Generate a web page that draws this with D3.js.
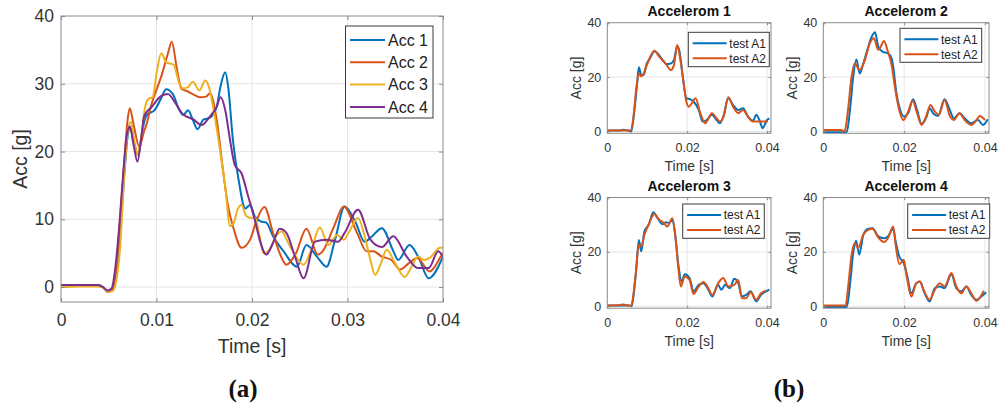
<!DOCTYPE html>
<html>
<head>
<meta charset="utf-8">
<script src="https://cdn.jsdelivr.net/npm/d3@7"></script>
<style>
  html, body { margin: 0; padding: 0; background: #fff; }
  svg { display: block; font-family: "Liberation Sans", Arial, sans-serif; }
</style>
</head>
<body>
<div id="chart"></div>
<script>
// -------------------- Data --------------------
// each series is a list of [time (s), acceleration (g)]
const mainNames = ["Acc 1", "Acc 2", "Acc 3", "Acc 4"];
const subNames = ["test A1", "test A2"];
const subTitles = ["Accelerom 1", "Accelerom 2", "Accelerom 3", "Accelerom 4"];

const mainXTicks = [0, 0.01, 0.02, 0.03, 0.04];
const mainYTicks = [0, 10, 20, 30, 40];
const subXTicks = [0, 0.02, 0.04];
const subYTicks = [0, 20, 40];

const acc1 = [[0,0.3],[0.002,0.3],[0.0038,0.3],[0.0044,0],[0.0049,-0.7],[0.0054,-0.3],[0.0058,2],[0.0062,8],[0.0066,16],[0.0070,22.5],[0.0072,23.7],[0.0076,21.5],[0.0081,19.5],[0.0085,23],[0.009,25.4],[0.0098,26.1],[0.0105,27.9],[0.011,29.2],[0.0117,28.5],[0.0124,26.1],[0.0128,25.4],[0.0133,26.1],[0.0138,24.7],[0.0143,23.3],[0.0149,24.7],[0.0156,25],[0.0163,26.6],[0.0167,29.6],[0.0172,31.7],[0.0175,29.6],[0.018,21.7],[0.0186,15.8],[0.0193,11.6],[0.0198,12.1],[0.0203,10.4],[0.0209,9.7],[0.0215,9.5],[0.0222,7.5],[0.0233,5.3],[0.0247,3],[0.0257,6.2],[0.0268,4.5],[0.0278,3],[0.0287,7],[0.0297,11.9],[0.0308,9.7],[0.0318,6.7],[0.0325,7.4],[0.0336,8.7],[0.0348,5.3],[0.0353,4],[0.0365,6.2],[0.0374,4.5],[0.0385,1.3],[0.04,4.5]];
const acc2 = [[0,0.2],[0.002,0.2],[0.0038,0.2],[0.0044,0],[0.0049,-0.7],[0.0054,-0.3],[0.0058,3],[0.0062,10],[0.0066,18],[0.007,25],[0.0072,26.4],[0.0076,24],[0.0082,20.7],[0.0087,23],[0.009,24.2],[0.0094,26.6],[0.0101,29.5],[0.0105,31.1],[0.0112,34.5],[0.0116,36.2],[0.0121,32.5],[0.0126,29.3],[0.0132,28.9],[0.0139,28.4],[0.0146,28],[0.0152,28.1],[0.0156,28.6],[0.0163,24.7],[0.017,16.8],[0.0175,11.9],[0.0181,8.5],[0.0189,5.8],[0.0198,7],[0.0205,9.9],[0.0213,11.8],[0.0222,8],[0.0229,5],[0.0236,3.3],[0.0246,5],[0.0257,8.6],[0.0269,4.8],[0.0275,5.5],[0.0286,9],[0.0296,11.9],[0.031,8],[0.032,5.3],[0.0327,5.3],[0.0336,4.5],[0.0346,4],[0.0355,2.6],[0.0364,3.5],[0.0373,4.3],[0.0386,2.3],[0.0399,4.8],[0.04,5]];
const acc3 = [[0,0],[0.002,0.1],[0.004,0.1],[0.0045,-0.2],[0.005,-0.7],[0.0054,-0.6],[0.0058,1],[0.0062,6],[0.0066,16],[0.007,23],[0.0073,24.4],[0.0077,21.5],[0.008,19.5],[0.0084,22],[0.0088,26.5],[0.0092,27.8],[0.0096,28],[0.01,31.5],[0.0105,34.5],[0.011,33.2],[0.0118,32.8],[0.0124,30],[0.0128,29.3],[0.0133,29.5],[0.0138,30.3],[0.0145,29],[0.0151,30.5],[0.0155,29.5],[0.016,26],[0.0166,20.7],[0.0172,14.8],[0.0177,9],[0.0181,9.5],[0.0185,11.5],[0.0189,12.1],[0.0194,10.5],[0.0199,10.2],[0.0203,10.3],[0.0208,7.5],[0.0212,5],[0.0218,5.5],[0.0225,7.5],[0.0231,8.2],[0.0238,6.5],[0.0246,4.5],[0.0254,3.3],[0.0262,5.5],[0.0271,8.8],[0.028,6.2],[0.0289,7.7],[0.0296,7],[0.0303,8.5],[0.0311,10.2],[0.0318,7.5],[0.0324,4],[0.0329,1.8],[0.0335,3.5],[0.0341,5.5],[0.035,3.5],[0.036,1.5],[0.0367,3],[0.0374,4.5],[0.038,4],[0.0386,4.3],[0.0397,5.8],[0.04,5.8]];
const acc4 = [[0,0.3],[0.002,0.3],[0.0038,0.3],[0.0044,0],[0.0049,-0.5],[0.0053,-0.2],[0.0057,3],[0.0061,9],[0.0065,16.5],[0.0069,22.5],[0.0072,23.7],[0.0076,21],[0.008,18.5],[0.0084,22],[0.0087,25.2],[0.0095,26.6],[0.0105,28.2],[0.0112,28.5],[0.012,27.1],[0.0127,25.6],[0.0139,24.7],[0.0147,23.9],[0.0156,25.2],[0.0163,26.6],[0.0167,28],[0.0172,26.1],[0.0177,21.7],[0.0182,18],[0.0189,16.8],[0.0196,13.4],[0.0203,9.9],[0.0208,7],[0.0215,4.8],[0.0222,6.5],[0.0229,8.6],[0.0236,8],[0.0245,4.5],[0.0254,1.3],[0.0266,6.7],[0.0278,7],[0.029,6.7],[0.0297,8],[0.0311,11.4],[0.0324,7],[0.0336,5.9],[0.0348,7.5],[0.0362,4.5],[0.0374,2.8],[0.0385,2.8],[0.0395,5.3],[0.04,4.5]];

const s1a1 = [[0,0.3],[0.003,0.3],[0.004,0.6],[0.0052,0.3],[0.006,0],[0.0068,7.9],[0.0074,16.5],[0.0079,23.6],[0.0085,20.8],[0.0091,20.8],[0.0099,25],[0.0107,26.9],[0.0118,29.5],[0.013,28],[0.014,26],[0.0148,24.8],[0.0159,25],[0.0167,26.3],[0.0175,31.4],[0.0181,29.3],[0.0189,20.2],[0.0198,12.2],[0.0208,11.8],[0.0216,11],[0.0229,7.9],[0.0239,3.6],[0.0249,4.2],[0.0262,6.1],[0.0274,4.2],[0.0282,3],[0.0291,5.5],[0.0303,12.2],[0.0315,9.7],[0.0328,7.9],[0.034,8.5],[0.0352,5.5],[0.0365,3.9],[0.0373,6.1],[0.0381,4.2],[0.0389,1.2],[0.04,4.2],[0.0406,4.8]];
const s1a2 = [[0,0.3],[0.0058,0.3],[0.0066,6],[0.0072,15],[0.0079,21.3],[0.0085,20.3],[0.009,21],[0.0099,24.4],[0.0118,29.7],[0.013,27.5],[0.0146,25],[0.0159,22.6],[0.0167,24.4],[0.0175,31.8],[0.0183,26.3],[0.0189,20.2],[0.0198,11],[0.0204,9.1],[0.0212,10.4],[0.0221,12.2],[0.0233,6.7],[0.0245,3],[0.0262,6.7],[0.0274,4.8],[0.0282,3.6],[0.0291,5.5],[0.0303,12.6],[0.0315,9.1],[0.0328,6.7],[0.034,7.9],[0.0352,5.5],[0.0365,3.6],[0.0377,3.6],[0.0389,3.6],[0.0402,3.6]];
const s2a1 = [[0,-0.3],[0.0058,-0.3],[0.0066,7.9],[0.0074,20.2],[0.0082,26.5],[0.009,21.3],[0.0099,25],[0.0109,30],[0.0119,34.6],[0.0128,36.5],[0.0136,31.2],[0.0147,29.3],[0.016,28.7],[0.0169,26.9],[0.0173,23.8],[0.0181,14],[0.0189,8.5],[0.0199,5.5],[0.021,6.7],[0.0222,11.8],[0.0232,7.9],[0.0243,2.8],[0.0255,5.2],[0.0263,8.5],[0.0273,6.4],[0.0284,5.7],[0.03,11.8],[0.0313,7.9],[0.0323,4.8],[0.0337,6.7],[0.035,4.8],[0.0366,3],[0.0383,4.2],[0.0395,2.4],[0.0407,4.5]];
const s2a2 = [[0,0.5],[0.0045,0.5],[0.005,0],[0.0054,0.6],[0.0062,9.1],[0.007,20.2],[0.0078,25],[0.009,22.6],[0.0103,26.3],[0.0115,32.4],[0.0125,34.3],[0.0136,30],[0.0142,31.2],[0.015,33.3],[0.016,29.3],[0.0169,24.4],[0.0177,16.5],[0.0185,9.7],[0.0198,4.2],[0.021,7.3],[0.0221,11.3],[0.0232,6.7],[0.0243,2.4],[0.0255,5.7],[0.0265,9.7],[0.0276,7.3],[0.0286,6.1],[0.03,11.6],[0.0313,5.7],[0.0323,4.2],[0.0337,6.7],[0.035,4.2],[0.0366,2.4],[0.0379,4.2],[0.0387,5.7],[0.04,4.2]];
const s3a1 = [[0,0.3],[0.0055,0.3],[0.0061,0],[0.0066,4.3],[0.0072,12.8],[0.0079,24.4],[0.0085,20.2],[0.0093,27.5],[0.0104,30],[0.0115,34.6],[0.0126,32.4],[0.0138,30.2],[0.0147,30.9],[0.0155,30.6],[0.0163,31.8],[0.017,26.3],[0.0178,15.3],[0.0186,9.1],[0.0194,11.8],[0.0206,10.4],[0.0216,5.5],[0.0229,7.9],[0.0241,8.5],[0.0253,6.1],[0.0263,3.6],[0.0277,7.9],[0.0286,6.1],[0.0295,7.9],[0.0307,6.7],[0.0318,10.1],[0.0328,8.5],[0.0337,3.6],[0.0348,4.2],[0.0359,5.5],[0.0373,1.8],[0.0385,4.2],[0.0398,5.5],[0.0406,6.1]];
const s3a2 = [[0,0.3],[0.003,0.4],[0.004,0.7],[0.0052,0.3],[0.006,0.2],[0.0066,5],[0.0071,11.6],[0.0079,22.6],[0.0085,22],[0.0093,26.3],[0.0105,30.6],[0.0118,33.9],[0.013,31.8],[0.0142,30.6],[0.015,29.3],[0.0163,32.4],[0.0171,25],[0.0178,14],[0.0184,7.3],[0.0194,11],[0.0206,9.7],[0.0216,4.5],[0.0229,7.3],[0.0241,8.9],[0.0253,6.7],[0.0263,4.2],[0.0278,8.5],[0.029,10.4],[0.0303,7.3],[0.0318,7.9],[0.0328,9.7],[0.0337,3],[0.0348,3],[0.0359,5.2],[0.0373,2.4],[0.0385,4.8],[0.0398,5.7]];
const s4a1 = [[0,-0.3],[0.0058,-0.3],[0.0066,7.9],[0.0074,19.6],[0.0081,24.1],[0.0089,19],[0.0099,26.3],[0.0111,28.5],[0.0122,28.7],[0.0136,25.7],[0.015,25],[0.016,25.7],[0.0173,28.5],[0.0179,23.8],[0.0188,18.3],[0.0199,15.9],[0.0207,11.6],[0.0218,4.8],[0.023,8.5],[0.0239,9.1],[0.0249,5.5],[0.0263,1.8],[0.0276,6.7],[0.0288,7.3],[0.03,6.7],[0.0317,11.8],[0.0329,6.7],[0.0342,5.5],[0.0354,7.3],[0.0366,4.2],[0.0379,2.4],[0.0391,3.6],[0.0403,5.2]];
const s4a2 = [[0,0.3],[0.0052,0.3],[0.0055,0.2],[0.0062,7.9],[0.007,19],[0.0078,23.2],[0.0086,21.4],[0.0099,26.3],[0.0111,28.1],[0.0122,28.5],[0.0136,25.3],[0.015,23.6],[0.016,25],[0.0173,29.3],[0.0179,22.6],[0.0188,15.5],[0.0199,17.1],[0.0207,10.4],[0.0218,3.6],[0.023,8.5],[0.0239,9.1],[0.0249,5.7],[0.0263,2.4],[0.0276,6.1],[0.0288,8.5],[0.03,7.3],[0.0317,12.2],[0.0329,7.3],[0.0342,4.8],[0.0354,7.3],[0.0366,4.8],[0.0379,2],[0.0397,5.7]];

// -------------------- Style --------------------
const colors = ["#0072BD", "#D95319", "#EDB120", "#7E2F8E"];
const textColor = "#333";
const boxColor = "#8a8a8a";
const gridColor = "#e6e6e6";

const width = 998, height = 408;
const svg = d3.select("#chart").append("svg")
  .attr("width", width)
  .attr("height", height);

let clipId = 0;

function panel(cfg) {
  const x = d3.scaleLinear().domain(cfg.xDomain).range([cfg.left, cfg.right]);
  const y = d3.scaleLinear().domain(cfg.yDomain).range([cfg.bottom, cfg.top]);
  const w = cfg.right - cfg.left, h = cfg.bottom - cfg.top;
  const g = svg.append("g");

  // grid
  g.append("g").selectAll("line").data(cfg.xTicks.filter(t => t > cfg.xDomain[0] && t < cfg.xDomain[1]))
    .join("line")
    .attr("x1", d => x(d)).attr("x2", d => x(d))
    .attr("y1", cfg.top).attr("y2", cfg.bottom)
    .attr("stroke", gridColor).attr("stroke-width", 1);
  g.append("g").selectAll("line").data(cfg.yTicks.filter(t => t > cfg.yDomain[0] && t < cfg.yDomain[1]))
    .join("line")
    .attr("y1", d => y(d)).attr("y2", d => y(d))
    .attr("x1", cfg.left).attr("x2", cfg.right)
    .attr("stroke", gridColor).attr("stroke-width", 1);

  // lines
  const id = "clip" + (clipId++);
  svg.append("clipPath").attr("id", id)
    .append("rect").attr("x", cfg.left).attr("y", cfg.top).attr("width", w).attr("height", h);
  const line = d3.line().x(d => x(d[0])).y(d => y(d[1])).curve(d3.curveMonotoneX);
  g.append("g").attr("clip-path", `url(#${id})`)
    .selectAll("path").data(cfg.series)
    .join("path")
    .attr("d", d => line(d))
    .attr("fill", "none")
    .attr("stroke", (d, i) => colors[i])
    .attr("stroke-width", cfg.lineWidth)
    .attr("stroke-linejoin", "round");

  // axes (inward ticks, labels outside)
  const tl = cfg.tickLen;
  const xAxis = d3.axisBottom(x).tickValues(cfg.xTicks).tickFormat(d3.format("~g"))
    .tickSizeInner(-tl).tickSizeOuter(0).tickPadding(cfg.xPad);
  const yAxis = d3.axisLeft(y).tickValues(cfg.yTicks).tickFormat(d3.format("~g"))
    .tickSizeInner(-tl).tickSizeOuter(0).tickPadding(cfg.yPad);
  const ax = g.append("g").attr("transform", `translate(0,${cfg.bottom})`).call(xAxis);
  const ay = g.append("g").attr("transform", `translate(${cfg.left},0)`).call(yAxis);
  const axTop = g.append("g").attr("transform", `translate(0,${cfg.top})`)
    .call(d3.axisTop(x).tickValues(cfg.xTicks).tickFormat("").tickSizeInner(-tl).tickSizeOuter(0));
  const ayRight = g.append("g").attr("transform", `translate(${cfg.right},0)`)
    .call(d3.axisRight(y).tickValues(cfg.yTicks).tickFormat("").tickSizeInner(-tl).tickSizeOuter(0));
  [ax, ay, axTop, ayRight].forEach(a => {
    a.select(".domain").remove();
    a.selectAll(".tick line").attr("stroke", boxColor);
    a.selectAll("text").attr("fill", textColor).style("font-size", cfg.tickFont + "px").attr("font-family", null);
  });

  g.append("rect")
    .attr("x", cfg.left).attr("y", cfg.top).attr("width", w).attr("height", h)
    .attr("fill", "none").attr("stroke", boxColor).attr("stroke-width", 1);

  // axis labels
  g.append("text")
    .attr("x", (cfg.left + cfg.right) / 2).attr("y", cfg.bottom + cfg.xLabelOff)
    .attr("text-anchor", "middle").attr("fill", textColor)
    .style("font-size", cfg.labelFont + "px")
    .text("Time [s]");
  g.append("text")
    .attr("transform", `translate(${cfg.left - cfg.yLabelOff},${(cfg.top + cfg.bottom) / 2}) rotate(-90)`)
    .attr("text-anchor", "middle").attr("fill", textColor)
    .style("font-size", cfg.labelFont + "px")
    .text("Acc [g]");

  if (cfg.title) {
    g.append("text")
      .attr("x", (cfg.left + cfg.right) / 2).attr("y", cfg.top - 7)
      .attr("text-anchor", "middle").attr("fill", "#111")
      .style("font-size", "14px").style("font-weight", "bold")
      .text(cfg.title);
  }

  // legend
  const L = cfg.legend;
  const lg = g.append("g");
  lg.append("rect")
    .attr("x", L.x).attr("y", L.y).attr("width", L.w).attr("height", L.h)
    .attr("fill", "#fff").attr("stroke", "#3a3a3a").attr("stroke-width", 1);
  cfg.names.forEach((name, i) => {
    const yy = L.y + L.first + i * L.step;
    lg.append("line")
      .attr("x1", L.x + L.lx0).attr("x2", L.x + L.lx1)
      .attr("y1", yy).attr("y2", yy)
      .attr("stroke", colors[i]).attr("stroke-width", cfg.lineWidth);
    lg.append("text")
      .attr("x", L.x + L.tx).attr("y", yy).attr("dy", "0.35em")
      .attr("fill", "#222").style("font-size", L.font + "px")
      .text(name);
  });
}

// -------------------- (a) --------------------
panel({
  left: 61, right: 443, top: 16, bottom: 302,
  xDomain: [0, 0.04], yDomain: [-2.2, 40],
  xTicks: mainXTicks, yTicks: mainYTicks,
  series: [acc1, acc2, acc3, acc4], names: mainNames,
  lineWidth: 2, tickLen: 4, tickFont: 17.5, labelFont: 19.5,
  xPad: 12, yPad: 7, xLabelOff: 51, yLabelOff: 34,
  legend: { x: 345.5, y: 26, w: 87.5, h: 92, first: 14, step: 22.3, lx0: 4.5, lx1: 39.5, tx: 42.5, font: 16 }
});

// -------------------- (b) --------------------
const subLayout = [
  { left: 607.3, right: 771, top: 22.7, bottom: 133.3, legend: { x: 688.3, y: 32.3, w: 81, h: 34.4 } },
  { left: 823.3, right: 989, top: 22.7, bottom: 133.3, legend: { x: 900, y: 28.3, w: 81.7, h: 34 } },
  { left: 607.3, right: 771, top: 197.5, bottom: 308.2, legend: { x: 682.7, y: 204, w: 81.6, h: 34.3 } },
  { left: 823.3, right: 989, top: 197.5, bottom: 308.2, legend: { x: 907.7, y: 204, w: 82, h: 34.3 } }
];
const subSeries = [[s1a1, s1a2], [s2a1, s2a2], [s3a1, s3a2], [s4a1, s4a2]];

subLayout.forEach((p, k) => {
  panel({
    left: p.left, right: p.right, top: p.top, bottom: p.bottom,
    xDomain: [0, 0.041], yDomain: [-0.7, 40],
    xTicks: subXTicks, yTicks: subYTicks,
    series: subSeries[k], names: subNames, title: subTitles[k],
    lineWidth: 2, tickLen: 2.5, tickFont: 12.5, labelFont: 14,
    xPad: 10, yPad: 6, xLabelOff: 38, yLabelOff: 26,
    legend: Object.assign({ first: 11, step: 15, lx0: 4.4, lx1: 38.4, tx: 41, font: 12 }, p.legend)
  });
});

// -------------------- sub-figure captions --------------------
svg.append("text").attr("x", 243).attr("y", 397)
  .attr("text-anchor", "middle").attr("fill", "#111")
  .style("font-family", "'Liberation Serif', 'DejaVu Serif', serif")
  .style("font-size", "25px").style("font-weight", "bold")
  .text("(a)");
svg.append("text").attr("x", 789).attr("y", 397)
  .attr("text-anchor", "middle").attr("fill", "#111")
  .style("font-family", "'Liberation Serif', 'DejaVu Serif', serif")
  .style("font-size", "25px").style("font-weight", "bold")
  .text("(b)");
</script>
</body>
</html>
